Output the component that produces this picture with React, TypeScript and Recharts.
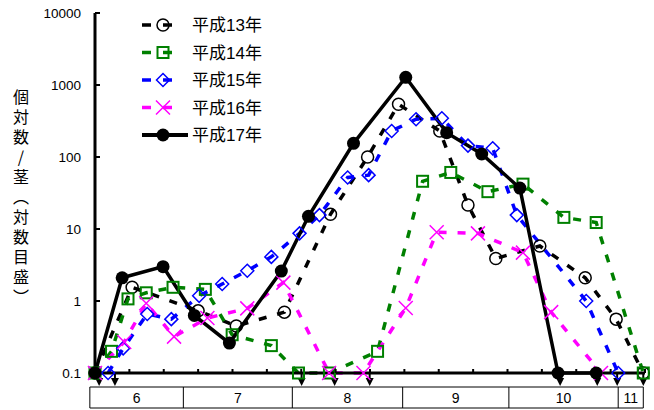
import { ComposedChart, Line, Scatter, XAxis, YAxis, Legend } from "recharts";

// x: position along the season axis (one minor tick = 10), y: 個体数/茎
const h13X = [0, 10.8, 30.0, 41.1, 55.1, 68.5, 79.3, 88.3, 100.3, 108.5, 116.6, 129.4, 142.6, 151.6, 159.5];
const h13Y = [0.1, 1.55, 0.73, 0.45, 0.7, 16, 100, 540, 230, 21.5, 3.9, 5.8, 2.1, 0.56, 0.1];

const h14X = [0, 4.8, 9.6, 14.9, 22.7, 32.1, 39.9, 51.3, 59.2, 68.2, 82.2, 95.3, 103.5, 114.3, 124.5, 136.4, 145.8, 159.5];
const h14Y = [0.1, 0.2, 1.07, 1.3, 1.55, 1.45, 0.34, 0.24, 0.1, 0.1, 0.2, 46, 61, 33, 42, 14.5, 12.3, 0.1];

const h15X = [3.8, 8.2, 15.2, 22.2, 30.3, 37.0, 44.3, 51.3, 59.5, 65.3, 73.5, 79.6, 86.3, 93.4, 100.9, 108.5, 115.7, 122.7, 142.9, 152.2];
const h15Y = [0.1, 0.22, 0.66, 0.56, 1.18, 1.72, 2.63, 4.1, 8.7, 15.6, 52, 56, 230, 335, 345, 144, 132, 15.6, 1.0, 0.1];

const h16X = [0, 8.5, 14.9, 23.0, 32.7, 44.3, 54.8, 68.1, 78.1, 90.4, 99.4, 111.4, 124.5, 132.7, 147.2];
const h16Y = [0.1, 0.27, 0.93, 0.32, 0.58, 0.79, 1.8, 0.1, 0.1, 0.8, 9.0, 8.7, 4.7, 0.7, 0.1];

const h17X = [0, 7.9, 19.8, 28.9, 39.1, 54.2, 62.1, 75.2, 90.4, 102.3, 112.5, 123.6, 134.7, 145.8];
const h17Y = [0.1, 2.1, 3.0, 0.63, 0.26, 2.6, 15, 155, 1280, 218, 110, 37, 0.1, 0.1];

// 不検出 (↓) positions
const arrowX = [1.2, 5.8, 60.1, 69.7, 79.9, 135.3, 146.1, 151.9, 159.5];

const monthEdges = [-1.5, 25.7, 57.4, 89.5, 120.4, 152.2, 159.5];
const monthLabels = ["6", "7", "8", "9", "10", "11"];

const xDomain = [0, 160];
const xTicks = [0, 10, 20, 30, 40, 50, 60, 70, 80, 90, 100, 110, 120, 130, 140, 150, 160];
const yTicks = [0.1, 1, 10, 100, 1000, 10000];
const yTickLabels = ["0.1", "1", "10", "100", "1000", "10000"];

const seriesNames = ["平成13年", "平成14年", "平成15年", "平成16年", "平成17年"];
const yTitle = "個対数/茎（対数目盛）";

const font = "'Liberation Sans', Arial, 'Noto Sans CJK JP', sans-serif";

const toRows = (xs: number[], ys: number[]) => xs.map((x, i) => ({ x, y: ys[i] }));

const series = [
  { name: seriesNames[0], data: toRows(h13X, h13Y), color: "#000000", kind: "circle", dashed: true },
  { name: seriesNames[1], data: toRows(h14X, h14Y), color: "#008000", kind: "square", dashed: true },
  { name: seriesNames[2], data: toRows(h15X, h15Y), color: "#0000ff", kind: "diamond", dashed: true },
  { name: seriesNames[3], data: toRows(h16X, h16Y), color: "#ff00ff", kind: "cross", dashed: true },
  { name: seriesNames[4], data: toRows(h17X, h17Y), color: "#000000", kind: "dot", dashed: false },
];

const arrowData = arrowX.map((x) => ({ x, y: 0.1 }));

function Marker({ kind, cx, cy, color }: { kind: string; cx: number; cy: number; color: string }) {
  if (cx == null || cy == null) return null;
  switch (kind) {
    case "circle":
      return <circle cx={cx} cy={cy} r={6} fill="none" stroke={color} strokeWidth={1.5} />;
    case "square":
      return <rect x={cx - 5.5} y={cy - 5.5} width={11} height={11} fill="none" stroke={color} strokeWidth={2} />;
    case "diamond":
      return (
        <path
          d={`M${cx},${cy - 6.5}L${cx + 6.5},${cy}L${cx},${cy + 6.5}L${cx - 6.5},${cy}Z`}
          fill="none"
          stroke={color}
          strokeWidth={1.5}
        />
      );
    case "cross":
      return (
        <path
          d={`M${cx - 7},${cy - 7}L${cx + 7},${cy + 7}M${cx + 7},${cy - 7}L${cx - 7},${cy + 7}`}
          stroke={color}
          strokeWidth={1.5}
        />
      );
    default:
      return <circle cx={cx} cy={cy} r={6.5} fill={color} />;
  }
}

// small inward tick; the first tick also draws the month table under the axis
const XTick = ({ x, y, payload, width }: any) => {
  const tick = <line x1={x} x2={x} y1={y} y2={y - 4} stroke="#000" strokeWidth={2} />;
  if (payload.value !== xDomain[0]) return tick;
  const k = (typeof width === "number" && width > 0 ? width : 548) / (xDomain[1] - xDomain[0]);
  const px = (v: number) => x + (v - xDomain[0]) * k;
  const top = y + 14;
  const bottom = y + 35;
  const left = px(monthEdges[0]);
  const right = px(monthEdges[monthEdges.length - 1]);
  return (
    <g>
      {tick}
      <line x1={left} x2={right} y1={top} y2={top} stroke="#000" strokeWidth={1} />
      <line x1={left} x2={right} y1={bottom} y2={bottom} stroke="#000" strokeWidth={1} />
      {monthEdges.map((e) => (
        <line key={e} x1={px(e)} x2={px(e)} y1={top} y2={bottom} stroke="#000" strokeWidth={1} />
      ))}
      {monthLabels.map((m, i) => (
        <text
          key={m}
          x={(px(monthEdges[i]) + px(monthEdges[i + 1])) / 2}
          y={(top + bottom) / 2}
          dy="0.36em"
          textAnchor="middle"
          fontSize={14}
          fontFamily={font}
          fill="#000"
        >
          {m}
        </text>
      ))}
    </g>
  );
};

const YTick = ({ x, y, payload }: any) => {
  const i = yTicks.indexOf(payload.value);
  return (
    <g>
      <line x1={x} x2={x + 5} y1={y} y2={y} stroke="#000" strokeWidth={2} />
      <text x={x - 14} y={y} dy="0.36em" textAnchor="end" fontSize={13.5} fontFamily={font} fill="#000">
        {yTickLabels[i]}
      </text>
    </g>
  );
};

const Arrow = ({ cx, cy }: any) => (
  <g>
    <line x1={cx} x2={cx} y1={cy} y2={cy + 7} stroke="#000" strokeWidth={2} />
    <path d={`M${cx - 4},${cy + 5}L${cx + 4},${cy + 5}L${cx},${cy + 13}Z`} fill="#000" />
  </g>
);

const LegendBox = () => (
  <svg width={170} height={135}>
    {series.map((s, i) => {
      const y = 15 + i * 27.5;
      return (
        <g key={s.name}>
          {s.dashed ? (
            <line x1={2} x2={33} y1={y} y2={y} stroke={s.color} strokeWidth={3.5} strokeDasharray="9 12" />
          ) : (
            <line x1={2} x2={48} y1={y} y2={y} stroke={s.color} strokeWidth={4} />
          )}
          <Marker kind={s.kind} cx={23} cy={y} color={s.color} />
          <text x={52} y={y} dy="0.36em" fontSize={17} fontFamily={font} fill="#000">
            {s.name}
          </text>
        </g>
      );
    })}
  </svg>
);

export default function App() {
  return (
    <div style={{ position: "absolute", left: 0, top: 0, width: 654, height: 410, background: "#fff" }}>
      <ComposedChart width={654} height={410} margin={{ top: 13, right: 9, bottom: 1, left: 0 }}>
        <XAxis
          dataKey="x"
          type="number"
          domain={xDomain}
          ticks={xTicks}
          interval={0}
          height={36}
          tickSize={0}
          tickMargin={0}
          tickLine={false}
          tick={<XTick />}
          axisLine={{ stroke: "#000", strokeWidth: 3 }}
        />
        <YAxis
          dataKey="y"
          scale="log"
          type="number"
          domain={[0.1, 10000]}
          ticks={yTicks}
          interval={0}
          width={95}
          tickSize={0}
          tickMargin={0}
          tickLine={false}
          tick={<YTick />}
          axisLine={{ stroke: "#000", strokeWidth: 3 }}
        />
        <Legend
          layout="vertical"
          align="center"
          verticalAlign="middle"
          content={<LegendBox />}
          wrapperStyle={{ left: 140, top: 10, width: 170, height: 135 }}
        />
        <Scatter data={arrowData} dataKey="y" shape={<Arrow />} isAnimationActive={false} legendType="none" />
        {series.map((s) => (
          <Line
            key={s.name}
            name={s.name}
            data={s.data}
            dataKey="y"
            type="linear"
            stroke={s.color}
            strokeWidth={3.5}
            strokeDasharray={s.dashed ? "8 11" : undefined}
            dot={(p: any) => <Marker key={`${s.name}-${p.index}`} kind={s.kind} cx={p.cx} cy={p.cy} color={s.color} />}
            activeDot={false}
            isAnimationActive={false}
          />
        ))}
      </ComposedChart>
      <svg width={40} height={410} style={{ position: "absolute", left: 0, top: 0, pointerEvents: "none" }}>
        <text
          x={21}
          y={89}
          fontSize={16}
          letterSpacing={4}
          fontFamily="'Noto Sans CJK JP', sans-serif"
          fill="#000"
          style={{ writingMode: "vertical-rl", textOrientation: "upright" } as any}
        >
          {yTitle}
        </text>
      </svg>
    </div>
  );
}
